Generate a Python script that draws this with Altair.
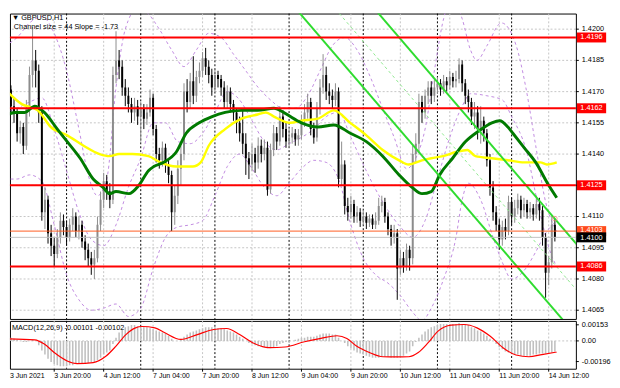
import altair as alt
import pandas as pd

# ---------------- data ----------------
FIRST_I = 4
FIRST_OPEN = 1.4178
closes = [1.4168, 1.4171, 1.4163, 1.4160, 1.4150, 1.4153, 1.4144, 1.4162, 1.4178, 1.4185,
          1.4180, 1.4160, 1.4112, 1.4118, 1.4102, 1.4096, 1.4092, 1.4100, 1.4108, 1.4105,
          1.4100, 1.4106, 1.4110, 1.4103, 1.4106, 1.4098, 1.4094, 1.4090, 1.4087, 1.4090,
          1.4106, 1.4118, 1.4127, 1.4122, 1.4118, 1.4178, 1.4185, 1.4182, 1.4172, 1.4168,
          1.4164, 1.4160, 1.4163, 1.4158, 1.4162, 1.4157, 1.4160, 1.4167, 1.4152, 1.4140,
          1.4137, 1.4143, 1.4135, 1.4130, 1.4112, 1.4120, 1.4133, 1.4140, 1.4170, 1.4165,
          1.4175, 1.4168, 1.4177, 1.4180, 1.4186, 1.4182, 1.4178, 1.4172, 1.4178, 1.4176,
          1.4172, 1.4165, 1.4170, 1.4164, 1.4160, 1.4155, 1.4150, 1.4145, 1.4138, 1.4135,
          1.4140, 1.4136, 1.4144, 1.4140, 1.4143, 1.4123, 1.4142, 1.4150, 1.4146, 1.4158,
          1.4152, 1.4146, 1.4148, 1.4150, 1.4147, 1.4149, 1.4156, 1.4160, 1.4165, 1.4152,
          1.4148, 1.4162, 1.4172, 1.4178, 1.4170, 1.4168, 1.4166, 1.4170, 1.4128, 1.4135,
          1.4115, 1.4112, 1.4116, 1.4110, 1.4112, 1.4108, 1.4110, 1.4107, 1.4109, 1.4106,
          1.4108, 1.4115, 1.4117, 1.4110, 1.4104, 1.4100, 1.4102, 1.4085, 1.4090, 1.4086,
          1.4094, 1.4090, 1.4140, 1.4145, 1.4165, 1.4160, 1.4168, 1.4172, 1.4168, 1.4172,
          1.4174, 1.4171, 1.4175, 1.4173, 1.4177, 1.4175, 1.4176, 1.4183, 1.4174, 1.4168,
          1.4165, 1.4158, 1.4160, 1.4152, 1.4156, 1.4150, 1.4137, 1.4124, 1.4112, 1.4106,
          1.4099, 1.4105, 1.4103, 1.4117, 1.4110, 1.4114, 1.4118, 1.4113, 1.4116, 1.4112,
          1.4114, 1.4111, 1.4116, 1.4113, 1.4100, 1.4083, 1.4088, 1.4106, 1.4100]
highs = [1.4181, 1.4176, 1.4173, 1.4167, 1.4162, 1.4156, 1.4155, 1.4166, 1.4182, 1.4201,
         1.4190, 1.4183, 1.4163, 1.4124, 1.4120, 1.4106, 1.4100, 1.4104, 1.4112, 1.4111,
         1.4108, 1.4109, 1.4114, 1.4112, 1.4110, 1.4108, 1.4101, 1.4097, 1.4093, 1.4094,
         1.4110, 1.4122, 1.4131, 1.4130, 1.4126, 1.4182, 1.4199, 1.4190, 1.4185, 1.4176,
         1.4172, 1.4167, 1.4167, 1.4166, 1.4165, 1.4164, 1.4164, 1.4171, 1.4169, 1.4154,
         1.4143, 1.4146, 1.4145, 1.4138, 1.4132, 1.4125, 1.4137, 1.4144, 1.4174, 1.4176,
         1.4179, 1.4187, 1.4180, 1.4184, 1.4189, 1.4191, 1.4185, 1.4181, 1.4181, 1.4180,
         1.4178, 1.4175, 1.4173, 1.4172, 1.4166, 1.4162, 1.4158, 1.4162, 1.4150, 1.4141,
         1.4145, 1.4143, 1.4148, 1.4147, 1.4147, 1.4146, 1.4145, 1.4154, 1.4153, 1.4163,
         1.4161, 1.4155, 1.4152, 1.4153, 1.4152, 1.4152, 1.4159, 1.4164, 1.4169, 1.4167,
         1.4155, 1.4165, 1.4176, 1.4188, 1.4182, 1.4174, 1.4171, 1.4174, 1.4172, 1.4146,
         1.4137, 1.4119, 1.4120, 1.4118, 1.4115, 1.4114, 1.4113, 1.4112, 1.4111, 1.4111,
         1.4112, 1.4119, 1.4120, 1.4119, 1.4112, 1.4106, 1.4106, 1.4104, 1.4094, 1.4093,
         1.4097, 1.4096, 1.4144, 1.4150, 1.4169, 1.4168, 1.4171, 1.4175, 1.4175, 1.4176,
         1.4177, 1.4176, 1.4178, 1.4177, 1.4180, 1.4179, 1.4180, 1.4186, 1.4185, 1.4176,
         1.4171, 1.4167, 1.4165, 1.4163, 1.4163, 1.4158, 1.4152, 1.4140, 1.4127, 1.4115,
         1.4109, 1.4108, 1.4109, 1.4120, 1.4119, 1.4118, 1.4121, 1.4120, 1.4119, 1.4118,
         1.4117, 1.4116, 1.4120, 1.4119, 1.4115, 1.4102, 1.4091, 1.4110, 1.4109]
lows = [1.4165, 1.4164, 1.4160, 1.4155, 1.4146, 1.4145, 1.4140, 1.4142, 1.4158, 1.4172,
        1.4172, 1.4155, 1.4108, 1.4104, 1.4097, 1.4091, 1.4086, 1.4090, 1.4097, 1.4101,
        1.4096, 1.4098, 1.4103, 1.4100, 1.4099, 1.4095, 1.4089, 1.4086, 1.4082, 1.4080,
        1.4088, 1.4103, 1.4114, 1.4118, 1.4114, 1.4116, 1.4174, 1.4176, 1.4168, 1.4163,
        1.4160, 1.4155, 1.4156, 1.4154, 1.4146, 1.4152, 1.4154, 1.4158, 1.4149, 1.4136,
        1.4133, 1.4134, 1.4131, 1.4126, 1.4103, 1.4106, 1.4116, 1.4125, 1.4137, 1.4160,
        1.4162, 1.4164, 1.4165, 1.4174, 1.4177, 1.4178, 1.4174, 1.4168, 1.4170, 1.4172,
        1.4168, 1.4162, 1.4162, 1.4160, 1.4156, 1.4150, 1.4146, 1.4140, 1.4130, 1.4128,
        1.4132, 1.4131, 1.4133, 1.4136, 1.4137, 1.4120, 1.4121, 1.4139, 1.4142, 1.4144,
        1.4148, 1.4143, 1.4143, 1.4145, 1.4144, 1.4144, 1.4147, 1.4153, 1.4157, 1.4149,
        1.4145, 1.4146, 1.4159, 1.4169, 1.4166, 1.4164, 1.4162, 1.4163, 1.4124, 1.4125,
        1.4111, 1.4108, 1.4109, 1.4107, 1.4107, 1.4105, 1.4106, 1.4104, 1.4105, 1.4104,
        1.4104, 1.4106, 1.4112, 1.4107, 1.4101, 1.4096, 1.4097, 1.4070, 1.4082, 1.4083,
        1.4084, 1.4084, 1.4087, 1.4136, 1.4141, 1.4155, 1.4157, 1.4164, 1.4164, 1.4165,
        1.4169, 1.4168, 1.4169, 1.4170, 1.4171, 1.4172, 1.4172, 1.4174, 1.4170, 1.4164,
        1.4160, 1.4154, 1.4152, 1.4147, 1.4145, 1.4146, 1.4134, 1.4120, 1.4108, 1.4103,
        1.4094, 1.4096, 1.4099, 1.4101, 1.4106, 1.4107, 1.4111, 1.4109, 1.4110, 1.4109,
        1.4109, 1.4108, 1.4109, 1.4108, 1.4096, 1.4071, 1.4077, 1.4085, 1.4098]

macd_hist = [0.0002, 0.0002, 0.0003, 0.0002, 0.0001, 0.0000, -0.0001, -0.0001, 0.0000, 0.0001,
             0.0000, -0.0004, -0.0009, -0.0013, -0.0017, -0.0020, -0.0022, -0.0023, -0.0024, -0.0024,
             -0.0024, -0.0023, -0.0023, -0.0022, -0.0022, -0.0022, -0.0022, -0.0021, -0.0020, -0.0020,
             -0.0018, -0.0016, -0.0013, -0.0011, -0.0009, -0.0003, 0.0003, 0.0008, 0.0011, 0.0013,
             0.0014, 0.0015, 0.0015, 0.0014, 0.0014, 0.0013, 0.0013, 0.0012, 0.0011, 0.0010,
             0.0009, 0.0008, 0.0007, 0.0005, 0.0002, 0.0000, 0.0000, 0.0001, 0.0004, 0.0006,
             0.0008, 0.0009, 0.0010, 0.0011, 0.0012, 0.0013, 0.0013, 0.0013, 0.0013, 0.0012,
             0.0012, 0.0011, 0.0010, 0.0009, 0.0008, 0.0006, 0.0004, 0.0002, 0.0000, -0.0002,
             -0.0003, -0.0004, -0.0005, -0.0005, -0.0006, -0.0007, -0.0007, -0.0006, -0.0005, -0.0003,
             -0.0002, -0.0001, -0.0001, 0.0000, 0.0001, 0.0002, 0.0003, 0.0003, 0.0004, 0.0004,
             0.0004, 0.0005, 0.0006, 0.0007, 0.0007, 0.0007, 0.0006, 0.0006, 0.0003, 0.0000,
             -0.0002, -0.0005, -0.0007, -0.0009, -0.0011, -0.0012, -0.0013, -0.0014, -0.0015, -0.0016,
             -0.0016, -0.0016, -0.0015, -0.0015, -0.0015, -0.0016, -0.0016, -0.0016, -0.0015, -0.0014,
             -0.0012, -0.0010, -0.0005, -0.0001, 0.0003, 0.0006, 0.0009, 0.0011, 0.0013, 0.0014,
             0.0015, 0.0016, 0.0016, 0.0016, 0.0016, 0.0016, 0.0016, 0.0017, 0.0016, 0.0016,
             0.0015, 0.0013, 0.0012, 0.0010, 0.0009, 0.0007, 0.0005, 0.0002, 0.0000, -0.0003,
             -0.0006, -0.0008, -0.0010, -0.0011, -0.0012, -0.0013, -0.0013, -0.0014, -0.0014, -0.0014,
             -0.0014, -0.0013, -0.0013, -0.0012, -0.0012, -0.0012, -0.0012, -0.0011, -0.0010]

signal_i = [3.2, 13.7, 16.8, 20, 24.2, 27.4, 32.6, 36.8, 40, 43.2, 46.3, 48.4, 52.6, 55.8, 61,
            66.3, 71.6, 75.8, 80, 84.2, 89.5, 94.7, 101, 106.3, 111.5, 114.7, 117.8, 122, 126.3,
            130.5, 134.7, 137.8, 141, 144.2, 148.4, 152.6, 156.8, 161, 165.2, 169.4, 173.6, 177.8, 182.6]
signal_v = [0.0002, 0.0001, -0.0003, -0.0011, -0.0019, -0.00215, -0.00206, -0.00143, -0.00049, 0.0006,
            0.00124, 0.00137, 0.00124, 0.00077, 0.00014, 0.0006, 0.00108, 0.00118, 0.0006, -0.00017,
            -0.00064, -0.00058, -0.00008, 0.00024, 0.00049, 0.00024, -0.00049, -0.0011, -0.0015,
            -0.00152, -0.0015, -0.0011, -0.00017, 0.00093, 0.0015, 0.00156, 0.00124, 0.00046,
            -0.00064, -0.00134, -0.0015, -0.0013, -0.00105]

yellow_i = [3.5, 9.5, 14.7, 18.9, 24.2, 29.5, 34.7, 37.9, 41, 45.3, 50.5, 54.3, 59.5, 64.8, 67.4,
            70, 75.3, 80.6, 85.8, 88.5, 91.1, 96.4, 100, 105.3, 110.5, 115.8, 121, 126.3, 131.6,
            134.7, 139, 142, 145.8, 150, 153.7, 156.3, 161.6, 166.8, 172.1, 177.3, 179.4, 182.6]
yellow_p = [1.4172, 1.4164, 1.4161, 1.4153, 1.4149, 1.4144, 1.4140, 1.4139, 1.4140, 1.4140, 1.4139,
            1.4136, 1.4134, 1.4134, 1.4136, 1.4144, 1.4152, 1.4157, 1.4159, 1.4160, 1.4158, 1.4155,
            1.4156, 1.4157, 1.4161, 1.4155, 1.4149, 1.4142, 1.4137, 1.4135, 1.4137, 1.4138, 1.4139,
            1.4141, 1.4142, 1.4139, 1.4138, 1.4137, 1.4136, 1.4136, 1.4135, 1.4136]

green_i = [3.5, 7.4, 10.5, 13.7, 16.8, 21, 24.2, 28.4, 32.6, 35.8, 37.9, 40, 44.2, 47.4, 50.5, 52.2,
           55.3, 59.5, 62.7, 66.9, 71.1, 75.3, 80.6, 85.8, 91.1, 94.3, 96.4, 100, 105.3, 110.5, 115.8,
           121, 126.3, 131.6, 135.8, 139, 142, 144.7, 148.9, 153.1, 157.3, 161.6, 164.2, 166.8,
           168.4, 172.1, 175.8, 180, 182.6]
green_p = [1.4158, 1.4160, 1.4160, 1.4163, 1.4160, 1.4152, 1.4146, 1.4138, 1.4128, 1.4124, 1.4121,
           1.4122, 1.4121, 1.4125, 1.4132, 1.4134, 1.4136, 1.4141, 1.4150, 1.4155, 1.4158, 1.4160,
           1.4161, 1.4161, 1.4162, 1.4160, 1.4158, 1.4155, 1.4153, 1.4154, 1.4150, 1.4146, 1.4139,
           1.4130, 1.4124, 1.4121, 1.4122, 1.4130, 1.4138, 1.4146, 1.4151, 1.4155, 1.4156, 1.4153,
           1.4150, 1.4143, 1.4136, 1.4125, 1.4119]

band_up_i = [4, 8, 12, 16, 20, 24, 28, 31, 34, 37, 40, 43, 47, 50, 54, 58, 62, 66, 70, 74, 78, 82,
             86, 90, 94, 98, 102, 106, 110, 114, 118, 122, 126, 130, 134, 137, 140, 143, 146, 149,
             152, 154.7, 156.8, 160, 164.7, 169.5, 172.6, 175.8, 179, 182.6]
band_up_p = [1.4192, 1.4196, 1.4203, 1.4206, 1.4198, 1.4180, 1.4152, 1.4130, 1.4120, 1.4128, 1.4172,
             1.4200, 1.4210, 1.4208, 1.4200, 1.4190, 1.4182, 1.4190, 1.4198, 1.4196, 1.4188, 1.4180,
             1.4172, 1.4166, 1.4162, 1.4162, 1.4168, 1.4180, 1.4192, 1.4196, 1.4190, 1.4178, 1.4163,
             1.4148, 1.4133, 1.4138, 1.4152, 1.4180, 1.4205, 1.4215, 1.4205, 1.4190, 1.4185, 1.4192,
             1.4203, 1.4192, 1.4172, 1.4144, 1.4117, 1.4103]
band_mid_i = [4, 8, 12, 16, 20, 24, 28, 32, 36, 40, 44, 48, 52, 56, 60, 64, 68, 72, 76, 80, 84, 88,
              92, 96, 100, 104, 108, 112, 116, 120, 124, 128, 132, 136, 140, 144, 148, 152, 154.7,
              160, 165, 168, 172.7, 176.8, 181, 182.6]
band_mid_p = [1.4160, 1.4162, 1.4165, 1.4167, 1.4152, 1.4132, 1.4112, 1.4099, 1.4096, 1.4106, 1.4124,
              1.4138, 1.4155, 1.4155, 1.4146, 1.4145, 1.4150, 1.4160, 1.4170, 1.4166, 1.4156, 1.4146,
              1.4142, 1.4145, 1.4148, 1.4152, 1.4158, 1.4160, 1.4148, 1.4135, 1.4123, 1.4113, 1.4105,
              1.4100, 1.4108, 1.4128, 1.4148, 1.4163, 1.4169, 1.4168, 1.4166, 1.4158, 1.4142, 1.4114,
              1.4091, 1.4086]
band_lo_i = [4, 8, 12, 16, 20, 24, 28, 32, 36, 40, 44, 48, 52, 56, 60, 64, 68, 72, 76, 80, 84, 88,
             92, 96, 100, 104, 108, 112, 116, 120, 124, 128, 132, 136, 139, 142, 146, 150, 152, 154,
             158, 162, 165, 168, 172, 175.8, 179, 182.6]
band_lo_p = [1.4128, 1.4128, 1.4130, 1.4127, 1.4106, 1.4082, 1.4070, 1.4065, 1.4066, 1.4068, 1.4062,
             1.4066, 1.4085, 1.4100, 1.4105, 1.4106, 1.4108, 1.4120, 1.4134, 1.4140, 1.4133, 1.4124,
             1.4120, 1.4126, 1.4133, 1.4137, 1.4136, 1.4128, 1.4106, 1.4090, 1.4082, 1.4078, 1.4072,
             1.4064, 1.4060, 1.4066, 1.4080, 1.4100, 1.4118, 1.4126, 1.4118, 1.4100, 1.4088, 1.4080,
             1.4084, 1.4093, 1.4102, 1.4108]

# regression channel (slope -1.73 pips/bar, size 44 pips): end points
chan_i = [90, 190]
chan_lower = [1.4224, 1.4051]
chan_middle = [1.4246, 1.4073]
chan_upper = [1.4268, 1.4095]

red_levels = [1.4196, 1.4162, 1.4125, 1.4086]
orange_level = 1.4103
bid_level = 1.4100

price_ticks = [1.4200, 1.4185, 1.4170, 1.4155, 1.4140, 1.4125, 1.4110, 1.4095, 1.4080, 1.4065]
macd_ticks = [0.00153, 0.0, -0.00196]
macd_tick_text = ["0.00153", "0.00", "-0.00196"]

time_idx = [4, 20, 36, 52, 68, 84, 100, 116, 132, 148, 164, 180]
time_labels = ["3 Jun 2021", "3 Jun 20:00", "4 Jun 12:00", "7 Jun 04:00", "7 Jun 20:00",
               "8 Jun 12:00", "9 Jun 04:00", "9 Jun 20:00", "10 Jun 12:00", "11 Jun 04:00",
               "11 Jun 20:00", "14 Jun 12:00"]
day_starts = [24, 48, 72, 96, 120, 144, 168]

tag_prices = [1.4196, 1.4162, 1.4125, 1.4086, 1.4103, 1.4100]
tag_texts = ["1.4196", "1.4162", "1.4125", "1.4086", "1.4103", "1.4100"]
tag_fill = ["#ff0000", "#ff0000", "#ff0000", "#ff0000", "#ff4a1c", "#000000"]
tag_nudge = ["0", "0", "0", "0", "up", "down"]

# ---------------- tables ----------------
n = len(closes)
idx = list(range(FIRST_I, FIRST_I + n))
opens = [FIRST_OPEN] + closes[:-1]
candles = pd.DataFrame({"i": idx, "open": opens, "close": closes, "high": highs, "low": lows})
candles["dir"] = ["up" if c >= o else "down" for o, c in zip(opens, closes)]

hist = pd.DataFrame({"i": idx, "v": macd_hist, "z": [0.0] * n})
sig = pd.DataFrame({"i": signal_i, "v": signal_v})
yel = pd.DataFrame({"i": yellow_i, "p": yellow_p})
grn = pd.DataFrame({"i": green_i, "p": green_p})
bands = pd.concat([
    pd.DataFrame({"i": band_up_i, "p": band_up_p, "b": "up"}),
    pd.DataFrame({"i": band_mid_i, "p": band_mid_p, "b": "mid"}),
    pd.DataFrame({"i": band_lo_i, "p": band_lo_p, "b": "lo"}),
])
chan_solid = pd.concat([
    pd.DataFrame({"i": chan_i, "p": chan_lower, "b": "lower"}),
    pd.DataFrame({"i": chan_i, "p": chan_upper, "b": "upper"}),
])
chan_mid = pd.DataFrame({"i": chan_i, "p": chan_middle})
reds = pd.DataFrame({"p": red_levels})
days = pd.DataFrame({"i": day_starts})
tags = pd.DataFrame({"p": tag_prices, "t": tag_texts, "f": tag_fill, "n": tag_nudge})
pticks = pd.DataFrame({"p": price_ticks})
mticks = pd.DataFrame({"v": macd_ticks, "t": macd_tick_text})
tticks = pd.DataFrame({"i": time_idx, "t": time_labels})
mtext = pd.DataFrame({"x": [0]})

# ---------------- geometry ----------------
W = 580           # plot width (page x 8 .. 588)
H_MAIN = 313      # main panel (page y 8 .. 321)
H_MACD = 49       # MACD panel (page y 323 .. 372)
FONT = "Liberation Sans"
FS = 7.5
xs = alt.Scale(domain=[5.68, 188.8], nice=False, zero=False)
ys = alt.Scale(domain=[1.40608, 1.42075], nice=False, zero=False)
ms = alt.Scale(domain=[-0.00264, 0.0019], nice=False, zero=False)
GRID = "#c4c4c4"


def X(f="i:Q"):
    return alt.X(f, scale=xs, axis=None)


def Y(f):
    return alt.Y(f, scale=ys, axis=None)


def M(f):
    return alt.Y(f, scale=ms, axis=None)


cscale = alt.Scale(domain=["up", "down"], range=["#8c8c8c", "#000000"])

# ---------------- main panel ----------------
hgrid = alt.Chart(pticks).mark_rule(color=GRID, strokeDash=[2, 2], strokeWidth=1).encode(y=Y("p:Q"))
vgrid = alt.Chart(tticks).mark_rule(color=GRID, strokeDash=[2, 2], strokeWidth=1,
                                    clip=True).encode(x=X())
day_main = alt.Chart(days).mark_rule(color="#000000", strokeWidth=1, strokeDash=[2, 2]).encode(x=X())
band_lines = alt.Chart(bands).mark_line(color="#c08ae0", strokeWidth=1, strokeDash=[3, 3],
                                        clip=True, interpolate="monotone").encode(
    x=X(), y=Y("p:Q"), detail="b:N")
wicks = alt.Chart(candles).mark_rule(strokeWidth=1, clip=True).encode(
    x=X(), y=Y("low:Q"), y2="high:Q", color=alt.Color("dir:N", scale=cscale, legend=None))
bodies = alt.Chart(candles).mark_rule(strokeWidth=2, clip=True).encode(
    x=X(), y=Y("open:Q"), y2="close:Q", color=alt.Color("dir:N", scale=cscale, legend=None))
yellow = alt.Chart(yel).mark_line(color="#ffff00", strokeWidth=2.5, interpolate="monotone",
                                  clip=True).encode(x=X(), y=Y("p:Q"))
green = alt.Chart(grn).mark_line(color="#007a00", strokeWidth=3, interpolate="monotone",
                                 clip=True).encode(x=X(), y=Y("p:Q"))
chan1 = alt.Chart(chan_solid).mark_line(color="#2fdc2f", strokeWidth=2, clip=True).encode(
    x=X(), y=Y("p:Q"), detail="b:N")
chan2 = alt.Chart(chan_mid).mark_line(color="#8ee88e", strokeWidth=1, strokeDash=[3, 3],
                                      clip=True).encode(x=X(), y=Y("p:Q"))
red_lines = alt.Chart(reds).mark_rule(color="#ff0000", strokeWidth=2).encode(y=Y("p:Q"))
orange_line = alt.Chart(pd.DataFrame({"p": [orange_level]})).mark_rule(
    color="#ff5a1f", strokeWidth=1).encode(y=Y("p:Q"))
bid_line = alt.Chart(pd.DataFrame({"p": [bid_level]})).mark_rule(
    color="#c0c0c0", strokeWidth=1).encode(y=Y("p:Q"))
alert = alt.Chart(pd.DataFrame({"i": [idx[-1]], "p": [highs[-1]]})).mark_point(
    shape="circle", size=22, color="#ff7f7f", filled=False, strokeWidth=1).encode(
    x=X(), y=Y("p:Q"))
# right price scale (ticks + labels)
ptick_marks = alt.Chart(pticks).mark_rule(color="#000000", strokeWidth=1).encode(
    x=alt.value(W), x2=alt.value(W + 3), y=Y("p:Q"))
ptick_text = alt.Chart(pticks).mark_text(align="left", baseline="middle", fontSize=FS, font=FONT,
                                         color="#000000").encode(
    x=alt.value(W + 6), y=Y("p:Q"), text=alt.Text("p:Q", format=".4f"))
BOX = "M-1,-0.34L1,-0.34L1,0.34L-1,0.34Z"
tag_box = alt.Chart(tags).mark_point(shape=BOX, size=900, filled=True, opacity=1,
                                     strokeWidth=0).encode(
    x=alt.value(W + 16), y=Y("p:Q"), color=alt.Color("f:N", scale=None, legend=None))


def tag_text(kind, dy):
    return alt.Chart(tags).transform_filter(alt.datum.n == kind).mark_text(
        color="#ffffff", fontSize=FS, font=FONT, align="center", baseline="middle", dy=dy
    ).encode(x=alt.value(W + 16), y=Y("p:Q"), text="t:N")


tag_txt0 = tag_text("0", 0)
tag_txt_up = tag_text("up", -1.2)
tag_txt_dn = tag_text("down", 1.2)
title1 = alt.Chart(mtext).mark_text(text="\u25BC GBPUSD,H1", align="left", baseline="middle",
                                    fontSize=FS, font=FONT, color="#000000").encode(
    x=alt.value(2), y=alt.value(5))
title2 = alt.Chart(mtext).mark_text(text="Channel size = 44 Slope = -1.73", align="left",
                                    baseline="middle", fontSize=FS, font=FONT,
                                    color="#000000").encode(x=alt.value(4), y=alt.value(14))

main = alt.layer(
    hgrid, vgrid, day_main, band_lines, wicks, bodies, yellow, green, chan2, chan1,
    red_lines, bid_line, orange_line, alert, ptick_marks, ptick_text, tag_box,
    tag_txt0, tag_txt_up, tag_txt_dn, title1, title2,
).properties(width=W, height=H_MAIN)

# ---------------- MACD panel ----------------
vgrid2 = alt.Chart(tticks).mark_rule(color=GRID, strokeDash=[2, 2], strokeWidth=1,
                                     clip=True).encode(x=X())
zero = alt.Chart(pd.DataFrame({"v": [0.0]})).mark_rule(color=GRID, strokeDash=[2, 2]).encode(
    y=M("v:Q"))
day_macd = alt.Chart(days).mark_rule(color="#000000", strokeWidth=1, strokeDash=[2, 2]).encode(x=X())
bars = alt.Chart(hist).mark_rule(color="#c0c0c0", strokeWidth=1.6, clip=True).encode(
    x=X(), y=M("v:Q"), y2="z:Q")
sigline = alt.Chart(sig).mark_line(color="#ff0000", strokeWidth=1.2, interpolate="monotone",
                                   clip=True).encode(x=X(), y=M("v:Q"))
mlabel = alt.Chart(mtext).mark_text(text="MACD(12,26,9) -0.00101 -0.00102", align="left",
                                    baseline="middle", fontSize=FS, font=FONT,
                                    color="#000000").encode(x=alt.value(2), y=alt.value(7))
mtick_marks = alt.Chart(mticks).mark_rule(color="#000000", strokeWidth=1).encode(
    x=alt.value(W), x2=alt.value(W + 3), y=M("v:Q"))
mtick_text = alt.Chart(mticks).mark_text(align="left", baseline="middle", fontSize=FS, font=FONT,
                                         color="#000000").encode(
    x=alt.value(W + 6), y=M("v:Q"), text="t:N")
# time scale (ticks + labels) under the MACD panel
tt_rest = tticks.iloc[1:]
ttick_marks = alt.Chart(tt_rest).mark_rule(color="#000000", strokeWidth=1).encode(
    x=X(), y=alt.value(H_MACD), y2=alt.value(H_MACD + 3))
ttick_text = alt.Chart(tt_rest).mark_text(align="left", baseline="middle", fontSize=7.2, font=FONT,
                                          color="#000000").encode(
    x=X(), y=alt.value(H_MACD + 8), text="t:N")
tfirst = alt.Chart(tticks.iloc[:1]).mark_text(align="left", baseline="middle", fontSize=7.2,
                                              font=FONT, color="#000000").encode(
    x=alt.value(0), y=alt.value(H_MACD + 8), text="t:N")

macd = alt.layer(vgrid2, zero, day_macd, bars, sigline, mlabel, mtick_marks, mtick_text,
                 ttick_marks, ttick_text, tfirst).properties(width=W, height=H_MACD)

chart = alt.vconcat(main, macd, spacing=2).properties(
    bounds="flush",
    background="#ffffff",
    padding=0,
).configure(font=FONT).configure_view(stroke="#000000", strokeWidth=1)

chart.save("out.html", embed_options={"renderer": "svg", "actions": False})
